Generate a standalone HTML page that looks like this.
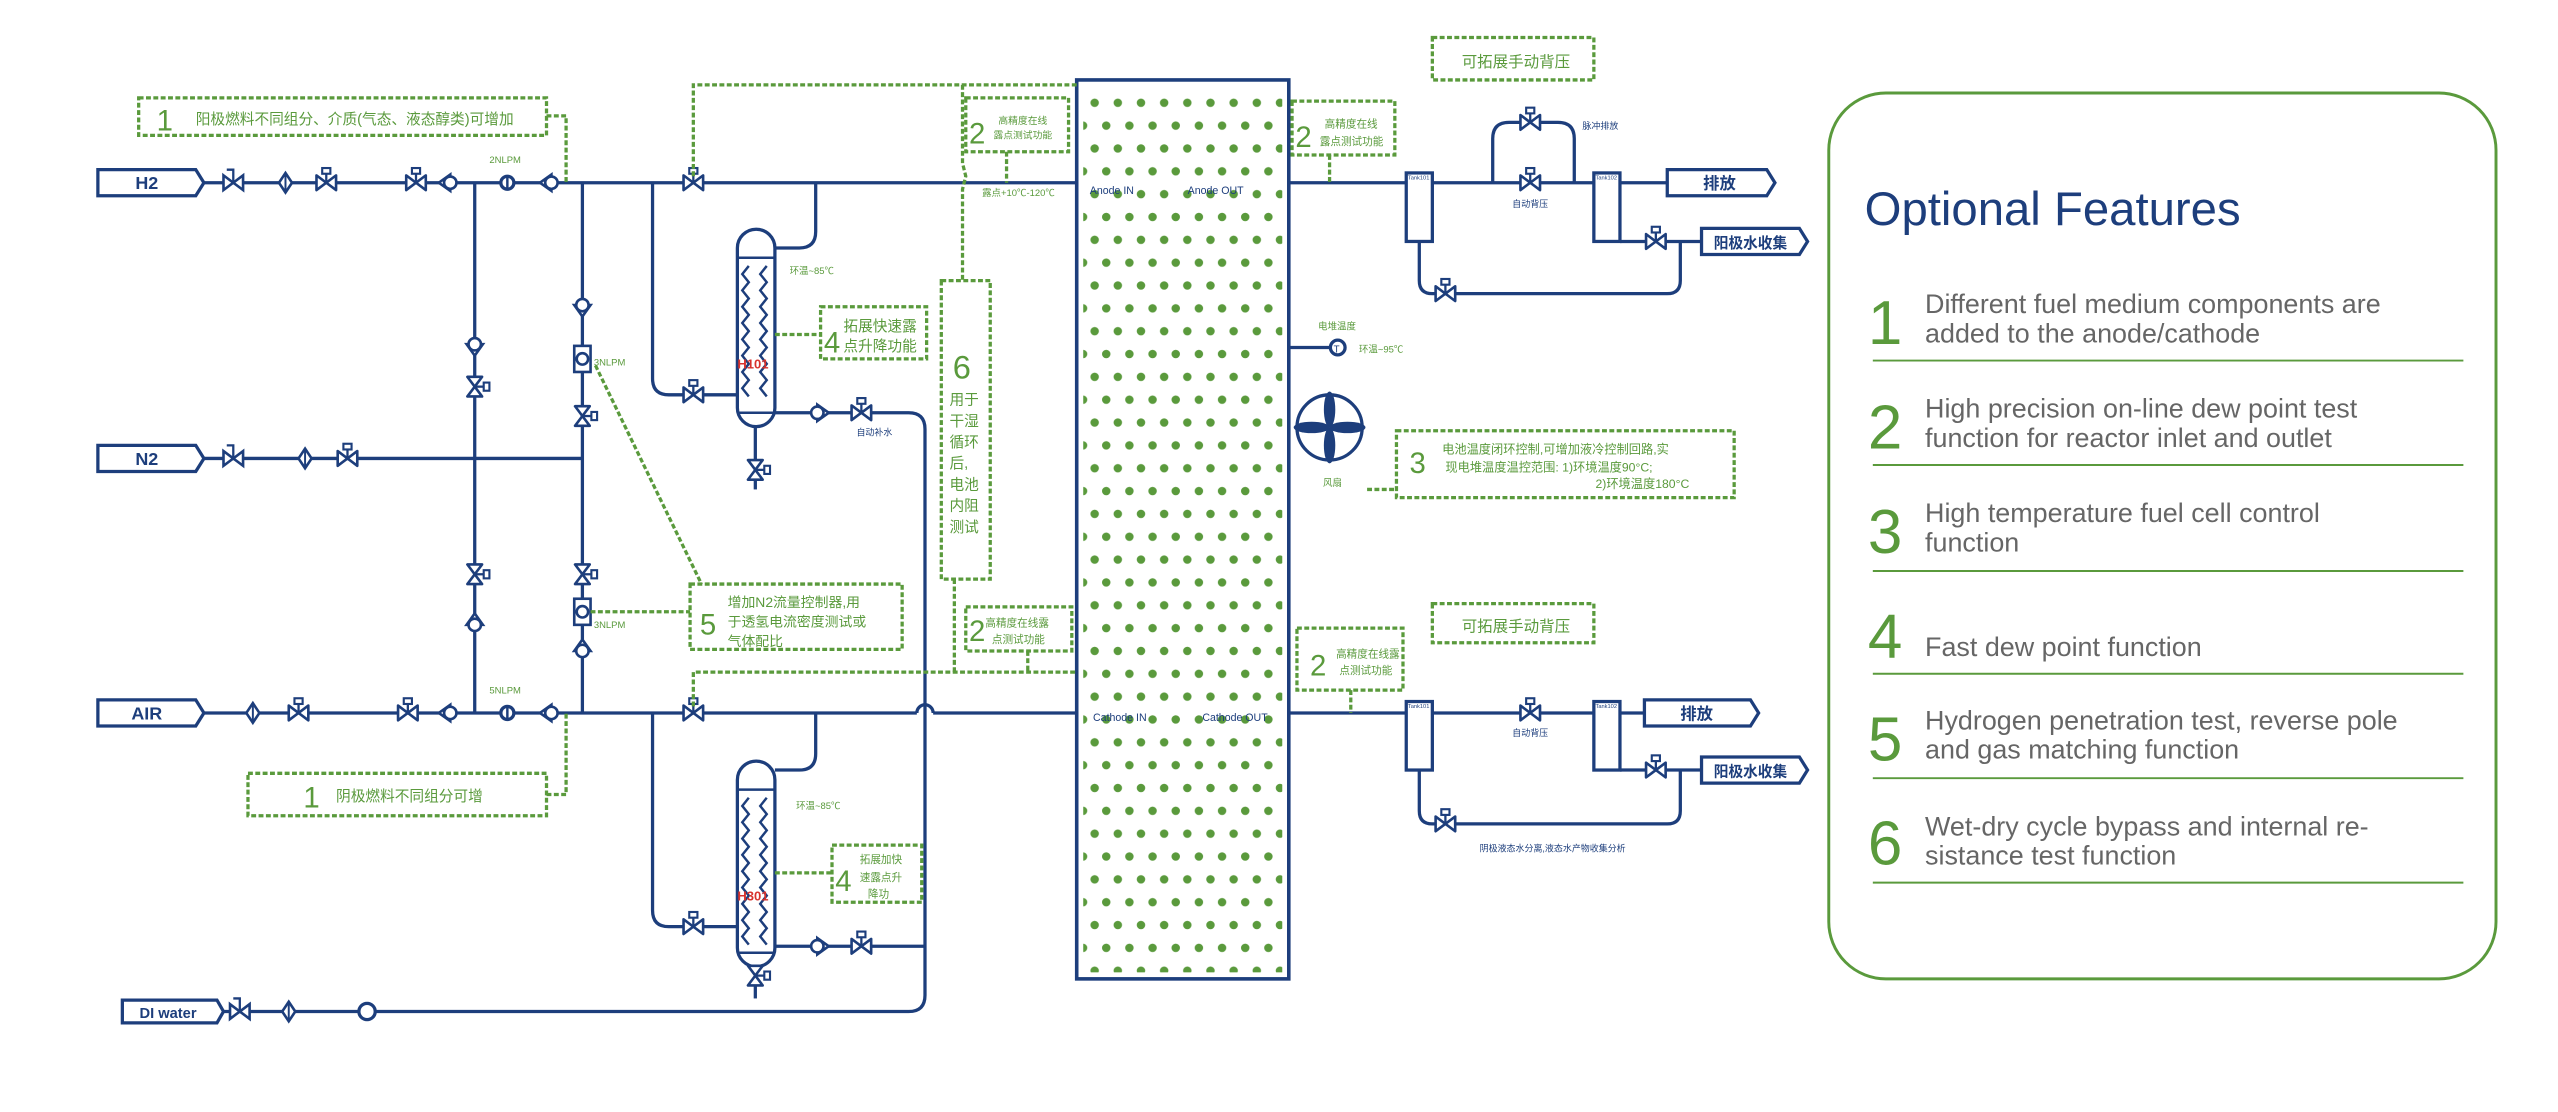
<!DOCTYPE html>
<html><head><meta charset="utf-8"><style>
html,body{margin:0;padding:0;background:#fff;}
svg{display:block}
text{font-family:"Liberation Sans","Noto Sans CJK SC",sans-serif;}
</style></head><body>
<svg width="2558" height="1112" viewBox="0 0 1568 681.6" preserveAspectRatio="none" xmlns="http://www.w3.org/2000/svg">
<defs>
<pattern id="dots" patternUnits="userSpaceOnUse" x="671" y="63" width="14.2" height="28">
<circle cx="0" cy="0" r="2.6" fill="#5a9a3c"/><circle cx="14.2" cy="0" r="2.6" fill="#5a9a3c"/>
<circle cx="0" cy="28" r="2.6" fill="#5a9a3c"/><circle cx="14.2" cy="28" r="2.6" fill="#5a9a3c"/>
<circle cx="7.1" cy="14" r="2.6" fill="#5a9a3c"/>
</pattern>
<g id="v"><path d="M-6,-4.5 L6,4.5 L6,-4.5 L-6,4.5Z" fill="#fff" stroke="#1d3e7c" stroke-width="1.6" stroke-linejoin="round"/><line x1="0" y1="0" x2="0" y2="-6" stroke="#1d3e7c" stroke-width="1.4"/><rect x="-2.5" y="-9" width="5" height="3.5" fill="#fff" stroke="#1d3e7c" stroke-width="1.3"/></g>
<g id="mv"><path d="M-6,-4.5 L6,4.5 L6,-4.5 L-6,4.5Z" fill="#fff" stroke="#1d3e7c" stroke-width="1.6"/><path d="M0,0 V-8 H-4" fill="none" stroke="#1d3e7c" stroke-width="1.4"/></g>
<g id="f"><path d="M0,-6 L4,0 L0,6 L-4,0Z" fill="#fff" stroke="#1d3e7c" stroke-width="1.6"/><line x1="0" y1="-6" x2="0" y2="6" stroke="#1d3e7c" stroke-width="1.2"/></g>
<g id="c"><path d="M-6,0 L1,-5 L1,5Z" fill="#fff" stroke="#1d3e7c" stroke-width="1.6"/><circle cx="1" cy="0" r="3.8" fill="#fff" stroke="#1d3e7c" stroke-width="1.6"/></g>
<g id="fm"><rect x="-5" y="-8" width="10" height="16" fill="#fff" stroke="#1d3e7c" stroke-width="1.6"/><circle cx="0" cy="0" r="3.5" fill="#fff" stroke="#1d3e7c" stroke-width="1.6"/></g>
</defs>

<g fill="none" stroke="#1d3e7c" stroke-width="2">
<line x1="125" y1="112" x2="660" y2="112"/>
<line x1="125" y1="281" x2="357" y2="281"/>
<line x1="125" y1="437" x2="562" y2="437"/>
<path d="M562,437 a5,5 0 0 1 10,0"/>
<line x1="572" y1="437" x2="660" y2="437"/>
<line x1="137" y1="620" x2="221" y2="620"/>
<path d="M229,620 H557 q10,0 10,-10 V263 q0,-10 -10,-10 H475"/>
<line x1="291" y1="112" x2="291" y2="437"/>
<line x1="357" y1="112" x2="357" y2="437"/>
<path d="M400,112 V232 q0,10 10,10 H452"/>
<path d="M500,112 V142 q0,10 -10,10 H475"/>
<line x1="463" y1="262" x2="463" y2="300"/>
<path d="M400,437 V558 q0,10 10,10 H452"/>
<path d="M500,437 V462 q0,10 -10,10 H475"/>
<line x1="475" y1="580" x2="567" y2="580"/>
<line x1="463" y1="592" x2="463" y2="612"/>
<rect x="660" y="49" width="130" height="551" stroke-width="2.2"/>
<line x1="790" y1="112" x2="1022" y2="112"/>
<path d="M915,112 V85 q0,-10 10,-10 H955 q10,0 10,10 V112"/>
<path d="M870,148 V172 q0,8 8,8 H1022 q8,0 8,-8 V148"/>
<line x1="993" y1="148" x2="1043" y2="148"/>
<line x1="790" y1="437" x2="1008" y2="437"/>
<path d="M870,472 V497 q0,8 8,8 H1022 q8,0 8,-8 V472"/>
<line x1="993" y1="472" x2="1043" y2="472"/>
<line x1="790" y1="213" x2="816" y2="213"/>
</g>
<rect x="664" y="56" width="122" height="540" fill="url(#dots)"/>

<g fill="#fff" stroke="#1d3e7c" stroke-width="2">
<path d="M60,104 H120 L125,112 L120,120 H60Z"/>
<path d="M60,273 H120 L125,281 L120,289 H60Z"/>
<path d="M60,429 H120 L125,437 L120,445 H60Z"/>
<path d="M75,613 H133 L137,620 L133,627 H75Z"/>
<path d="M1022,104 H1083 L1088,112 L1083,120 H1022Z"/>
<path d="M1043,140 H1103 L1108,148 L1103,156 H1043Z"/>
<path d="M1008,429 H1073 L1078,437 L1073,445 H1008Z"/>
<path d="M1043,464 H1103 L1108,472 L1103,480 H1043Z"/>
<circle cx="225" cy="620" r="5"/>
<rect x="862" y="106" width="16" height="42"/><rect x="977" y="106" width="16" height="42"/>
<rect x="862" y="430" width="16" height="42"/><rect x="977" y="430" width="16" height="42"/>
<circle cx="820" cy="213" r="4.5"/>
<circle cx="815" cy="262" r="20"/>
<circle cx="311" cy="112" r="4"/><circle cx="311" cy="437" r="4"/>
<path d="M452,152 a11.5,11.5 0 0 1 23,0 V250 a11.5,11.5 0 0 1 -23,0Z"/>
<path d="M452,478 a11.5,11.5 0 0 1 23,0 V581 a11.5,11.5 0 0 1 -23,0Z"/>
</g>
<g stroke="#1d3e7c" stroke-width="1.5" fill="none">
<line x1="452" y1="158" x2="475" y2="158"/><line x1="452" y1="253" x2="475" y2="253"/>
<line x1="452" y1="484" x2="475" y2="484"/><line x1="452" y1="584" x2="475" y2="584"/>
<path d="M459,163 l-4,5 4,5 -4,5 4,5 -4,5 4,5 -4,5 4,5 -4,5 4,5 -4,5 4,5 -4,5 4,5 -4,5 4,5"/>
<path d="M470,163 l-4,5 4,5 -4,5 4,5 -4,5 4,5 -4,5 4,5 -4,5 4,5 -4,5 4,5 -4,5 4,5 -4,5 4,5"/>
<path d="M459,489 l-4,5 4,5 -4,5 4,5 -4,5 4,5 -4,5 4,5 -4,5 4,5 -4,5 4,5 -4,5 4,5 -4,5 4,5 -4,5 4,5"/>
<path d="M470,489 l-4,5 4,5 -4,5 4,5 -4,5 4,5 -4,5 4,5 -4,5 4,5 -4,5 4,5 -4,5 4,5 -4,5 4,5 -4,5 4,5"/>
<line x1="311" y1="108" x2="311" y2="116"/><line x1="311" y1="433" x2="311" y2="441"/>
</g>
<g fill="#1d3e7c">
<ellipse cx="815" cy="251" rx="3.5" ry="11"/><ellipse cx="815" cy="273" rx="3.5" ry="11"/>
<ellipse cx="804" cy="262" rx="11" ry="3.5"/><ellipse cx="826" cy="262" rx="11" ry="3.5"/>
</g>

<use href="#mv" x="143" y="112"/><use href="#f" x="175" y="112"/><use href="#v" x="200" y="112"/>
<use href="#v" x="255" y="112"/><use href="#c" x="275" y="112"/><use href="#c" x="337" y="112"/>
<use href="#v" x="425" y="112"/>
<use href="#mv" x="143" y="281"/><use href="#f" x="187" y="281"/><use href="#v" x="213" y="281"/>
<use href="#f" x="155" y="437"/><use href="#v" x="183" y="437"/><use href="#v" x="250" y="437"/>
<use href="#c" x="275" y="437"/><use href="#c" x="337" y="437"/><use href="#v" x="425" y="437"/>
<use href="#mv" x="147" y="620"/><use href="#f" x="177" y="620"/>
<use href="#c" transform="translate(291,212) rotate(-90)"/><use href="#v" transform="translate(291,237) rotate(90)"/>
<use href="#v" transform="translate(291,352) rotate(90)"/><use href="#c" transform="translate(291,382) rotate(90)"/>
<use href="#c" transform="translate(357,188) rotate(-90)"/><use href="#fm" x="357" y="220"/><use href="#v" transform="translate(357,255) rotate(90)"/>
<use href="#v" transform="translate(357,352) rotate(90)"/><use href="#fm" x="357" y="375"/><use href="#c" transform="translate(357,398) rotate(90)"/>
<use href="#v" x="425" y="242"/><use href="#c" transform="translate(502,253) rotate(180)"/><use href="#v" x="528" y="253"/>
<use href="#v" transform="translate(463,288) rotate(90)"/>
<use href="#v" x="425" y="568"/><use href="#c" transform="translate(502,580) rotate(180)"/><use href="#v" x="528" y="580"/>
<use href="#v" transform="translate(463,598) rotate(90)"/>
<use href="#v" x="938" y="75"/><use href="#v" x="938" y="112"/><use href="#v" x="1015" y="148"/><use href="#v" x="886" y="180"/>
<use href="#v" x="938" y="437"/><use href="#v" x="1015" y="472"/><use href="#v" x="886" y="505"/>

<g fill="#1d3e7c" font-weight="bold" text-anchor="middle">
<text x="90" y="116" font-size="11">H2</text>
<text x="90" y="285" font-size="11">N2</text>
<text x="90" y="441" font-size="11">AIR</text>
<text x="103" y="624" font-size="9">DI water</text>
<text x="1054" y="116" font-size="10">排放</text>
<text x="1073" y="152" font-size="9">阳极水收集</text>
<text x="1040" y="441" font-size="10">排放</text>
<text x="1073" y="476" font-size="9">阳极水收集</text>
</g>
<g fill="#1d3e7c" font-size="6.5">
<text x="668" y="119">Anode IN</text><text x="728" y="119">Anode  OUT</text>
<text x="670" y="442">Cathode IN</text><text x="737" y="442">Cathode OUT</text>
<text x="927" y="127" font-size="5.5">自动背压</text><text x="927" y="451" font-size="5.5">自动背压</text>
<text x="970" y="79" font-size="5.5">脉冲排放</text>
<text x="525" y="267" font-size="5.5">自动补水</text>
<text x="907" y="522" font-size="5.5">阴极液态水分离,液态水产物收集分析</text>
<text x="863" y="110" font-size="3.5">Tank101</text><text x="978" y="110" font-size="3.5">Tank102</text>
<text x="863" y="434" font-size="3.5">Tank101</text><text x="978" y="434" font-size="3.5">Tank102</text>
<text x="817.5" y="216" font-size="6">T</text>
</g>
<g fill="#d8322c" font-size="8" font-weight="bold"><text x="452" y="226">H101</text><text x="452" y="552">H301</text></g>
<g fill="#5a9a3c" font-size="5.8">
<text x="300" y="100">2NLPM</text><text x="300" y="425">5NLPM</text>
<text x="364" y="224">3NLPM</text><text x="364" y="385">3NLPM</text>
<text x="484" y="168">环温~85℃</text><text x="488" y="496">环温~85℃</text>
<text x="602" y="120">露点+10℃-120℃</text>
<text x="808" y="202">电堆温度</text><text x="833" y="216">环温~95℃</text>
<text x="811" y="298">风扇</text>
</g>

<g fill="none" stroke="#5a9a3c" stroke-width="2" stroke-dasharray="3,1.5">
<rect x="85" y="60" width="250" height="23"/>
<path d="M335,71 H347 V112"/>
<path d="M425,108 V52 H660"/>
<path d="M590,52 V100 l2,8 -2,8 V172"/>
<rect x="592" y="60" width="63" height="33"/><path d="M617,93 V112"/>
<rect x="577" y="172" width="30" height="183"/>
<path d="M585,355 V412"/>
<rect x="592" y="372" width="65" height="27"/><path d="M630,399 V412"/>
<path d="M425,433 V412 H660"/>
<rect x="503" y="188" width="65" height="32"/><path d="M475,205 H503"/>
<rect x="423" y="358" width="130" height="40"/><path d="M362,375 H423"/><path d="M365,224 L430,358"/>
<rect x="152" y="474" width="183" height="26"/><path d="M335,487 H347 V437"/>
<rect x="510" y="518" width="55" height="35"/><path d="M475,535 H510"/>
<rect x="878" y="23" width="99" height="26"/>
<rect x="792" y="62" width="63" height="33"/><path d="M815,95 V112"/>
<rect x="856" y="264" width="207" height="41"/><path d="M838,300 H856"/>
<rect x="878" y="370" width="99" height="24"/>
<rect x="795" y="385" width="65" height="38"/><path d="M828,423 V437"/>
</g>
<g fill="#5a9a3c">
<text x="96" y="80" font-size="18">1</text><text x="120" y="76" font-size="9">阳极燃料不同组分、介质(气态、液态醇类)可增加</text>
<text x="186" y="495" font-size="18">1</text><text x="206" y="491" font-size="9">阴极燃料不同组分可增</text>
<text x="594" y="88" font-size="18">2</text><text x="612" y="76" font-size="6">高精度在线</text><text x="609" y="85" font-size="6">露点测试功能</text>
<text x="594" y="393" font-size="18">2</text><text x="604" y="384" font-size="6.5">高精度在线露</text><text x="608" y="394" font-size="6.5">点测试功能</text>
<text x="794" y="90" font-size="18">2</text><text x="812" y="78" font-size="6.5">高精度在线</text><text x="809" y="89" font-size="6.5">露点测试功能</text>
<text x="803" y="414" font-size="18">2</text><text x="819" y="403" font-size="6.5">高精度在线露</text><text x="821" y="413" font-size="6.5">点测试功能</text>
<text x="584" y="232" font-size="20">6</text>
<g font-size="9"><text x="582" y="248">用于</text><text x="582" y="261">干湿</text><text x="582" y="274">循环</text><text x="582" y="287">后,</text><text x="582" y="300">电池</text><text x="582" y="313">内阻</text><text x="582" y="326">测试</text></g>
<text x="505" y="216" font-size="18">4</text><text x="517" y="203" font-size="9">拓展快速露</text><text x="517" y="215" font-size="9">点升降功能</text>
<text x="512" y="546" font-size="18">4</text><text x="527" y="529" font-size="6.5">拓展加快</text><text x="527" y="540" font-size="6.5">速露点升</text><text x="532" y="550" font-size="6.5">降功</text>
<text x="429" y="389" font-size="18">5</text><text x="446" y="372" font-size="8.5">增加N2流量控制器,用</text><text x="446" y="384" font-size="8.5">于透氢电流密度测试或</text><text x="446" y="396" font-size="8.5">气体配比</text>
<text x="864" y="290" font-size="18">3</text><text x="884" y="278" font-size="7.5">电池温度闭环控制,可增加液冷控制回路,实</text><text x="886" y="289" font-size="7.5">现电堆温度温控范围:    1)环境温度90°C;</text><text x="978" y="299" font-size="7.5">2)环境温度180°C</text>
<text x="896" y="41" font-size="9.5">可拓展手动背压</text>
<text x="896" y="387" font-size="9.5">可拓展手动背压</text>
</g>

<rect x="1121" y="57" width="409" height="543" rx="35" fill="none" stroke="#5a9a3c" stroke-width="1.8"/>
<text x="1143" y="138" font-size="29" fill="#1d3e7c">Optional Features</text>
<g stroke="#5a9a3c" stroke-width="1.2">
<line x1="1148" y1="221" x2="1510" y2="221"/><line x1="1148" y1="285" x2="1510" y2="285"/>
<line x1="1148" y1="350" x2="1510" y2="350"/><line x1="1148" y1="413" x2="1510" y2="413"/>
<line x1="1148" y1="477" x2="1510" y2="477"/><line x1="1148" y1="541" x2="1510" y2="541"/>
</g>
<g fill="#5a9a3c" font-size="38">
<text x="1145" y="211">1</text><text x="1145" y="275">2</text><text x="1145" y="339">3</text>
<text x="1145" y="403">4</text><text x="1145" y="466">5</text><text x="1145" y="530">6</text>
</g>
<g fill="#666" font-size="16.5">
<text x="1180" y="192">Different fuel medium components are</text><text x="1180" y="210">added to the anode/cathode</text>
<text x="1180" y="256">High precision on-line dew point test</text><text x="1180" y="274">function for reactor inlet and outlet</text>
<text x="1180" y="320">High temperature fuel cell control</text><text x="1180" y="338">function</text>
<text x="1180" y="402">Fast dew point function</text>
<text x="1180" y="447">Hydrogen penetration test, reverse pole</text><text x="1180" y="465">and gas matching function</text>
<text x="1180" y="512">Wet-dry cycle bypass and internal re-</text><text x="1180" y="530">sistance test function</text>
</g>
</svg>
</body></html>
